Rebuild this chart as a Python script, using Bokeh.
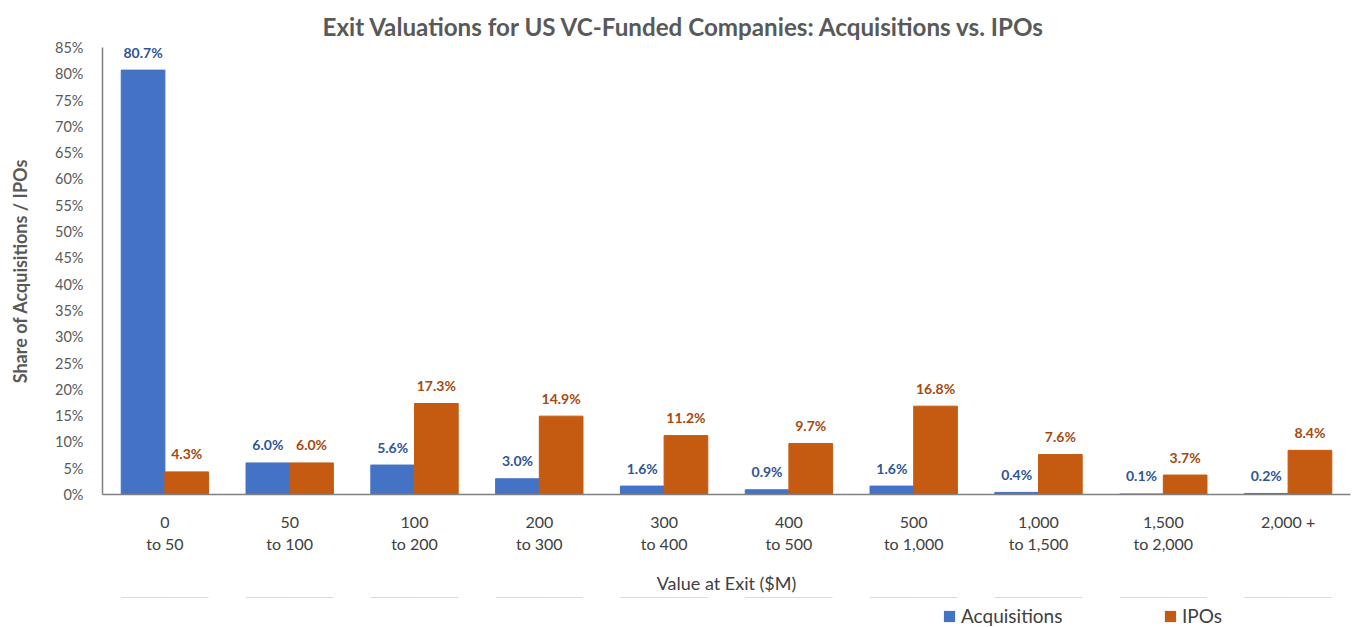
from bokeh.plotting import figure
from bokeh.layouts import column
from bokeh.models import (ColumnDataSource, FactorRange, Range1d, LabelSet, Legend, LegendItem,
                          SingleIntervalTicker, PrintfTickFormatter)
from bokeh.core.properties import value
from bokeh.transform import dodge
from bokeh.embed import file_html
from bokeh.resources import INLINE

categories = ["0\nto 50", "50\nto 100", "100\nto 200", "200\nto 300", "300\nto 400",
              "400\nto 500", "500\nto 1,000", "1,000\nto 1,500", "1,500\nto 2,000", "2,000 +"]
acquisitions = [80.7, 6.0, 5.6, 3.0, 1.6, 0.9, 1.6, 0.4, 0.1, 0.2]
ipos = [4.3, 6.0, 17.3, 14.9, 11.2, 9.7, 16.8, 7.6, 3.7, 8.4]
series_names = ["Acquisitions", "IPOs"]

FONT = "Lato"
BLUE = "#4472C4"
ORANGE = "#C55A11"

src = ColumnDataSource(dict(
    cat=categories,
    acq=acquisitions,
    ipo=ipos,
    acq_lbl=[f"{v:.1f}%" for v in acquisitions],
    ipo_lbl=[f"{v:.1f}%" for v in ipos],
))

p = figure(width=1353, height=597,
           x_range=FactorRange(factors=categories, range_padding=0),
           y_range=Range1d(0, 85), output_backend="svg", toolbar_location=None,
           min_border_left=102, min_border_right=3, min_border_top=47, min_border_bottom=103,
           title="Exit Valuations for US VC-Funded Companies:  Acquisitions vs. IPOs")

p.title.align = "left"
p.title.offset = 220
p.title.text_font = FONT
p.title.text_font_size = "24.2px"
p.title.text_font_style = "bold"
p.title.text_color = "#595959"
p.title.standoff = 14

r1 = p.vbar(x=dodge("cat", -0.175, range=p.x_range), top="acq", width=0.35, source=src,
            fill_color=BLUE, line_color=BLUE)
r2 = p.vbar(x=dodge("cat", 0.175, range=p.x_range), top="ipo", width=0.35, source=src,
            fill_color=ORANGE, line_color=ORANGE)

l1 = LabelSet(x=dodge("cat", -0.175, range=p.x_range), y="acq", text="acq_lbl", source=src,
              text_align="center", text_baseline="middle", y_offset=18,
              text_font=value(FONT), text_font_size="14px", text_font_style="bold",
              text_color="#2F5597")
l2 = LabelSet(x=dodge("cat", 0.175, range=p.x_range), y="ipo", text="ipo_lbl", source=src,
              text_align="center", text_baseline="middle", y_offset=18,
              text_font=value(FONT), text_font_size="14px", text_font_style="bold",
              text_color="#A8480E")
p.add_layout(l1)
p.add_layout(l2)

p.grid.visible = False
p.outline_line_color = None
p.background_fill_color = "white"

# y axis
ya = p.yaxis[0]
ya.ticker = SingleIntervalTicker(interval=5)
ya.formatter = PrintfTickFormatter(format="%d%%")
ya.major_tick_line_color = None
ya.minor_tick_line_color = None
ya.major_label_standoff = 13
ya.major_label_text_font = FONT
ya.major_label_text_font_size = "14.5px"
ya.major_label_text_color = "#595959"
ya.axis_line_color = "#808080"
ya.axis_line_width = 1.5
ya.axis_label = "Share of Acquisitions / IPOs"
ya.axis_label_text_font = FONT
ya.axis_label_text_font_size = "18px"
ya.axis_label_text_font_style = "bold"
ya.axis_label_text_color = "#595959"
ya.axis_label_standoff = 21

# x axis
xa = p.xaxis[0]
xa.major_tick_line_color = None
xa.minor_tick_line_color = None
xa.major_label_standoff = 11
xa.major_label_text_font = FONT
xa.major_label_text_font_size = "16px"
xa.major_label_text_color = "#404040"
xa.axis_line_color = "#808080"
xa.axis_line_width = 1.5
xa.axis_label = "Value at Exit ($M)"
xa.axis_label_text_font = FONT
xa.axis_label_text_font_size = "18px"
xa.axis_label_text_font_style = "normal"
xa.axis_label_text_color = "#404040"
xa.axis_label_standoff = 16

# legend strip below the chart (bars lie outside its range so only the legend shows)
lg = figure(width=1353, height=30, x_range=p.x_range, y_range=Range1d(-200, -100),
            output_backend="svg", toolbar_location=None,
            min_border_left=102, min_border_right=3, min_border_top=0, min_border_bottom=0)
lg.axis.visible = False
lg.grid.visible = False
lg.outline_line_color = None
g1 = lg.vbar(x=dodge("cat", -0.175, range=p.x_range), top="acq", width=0.35, source=src,
             fill_color=BLUE, line_color=None)
g2 = lg.vbar(x=dodge("cat", 0.175, range=p.x_range), top="ipo", width=0.35, source=src,
             fill_color=ORANGE, line_color=None)
legend = Legend(items=[LegendItem(label=series_names[0], renderers=[g1]),
                       LegendItem(label=series_names[1], renderers=[g2])],
                orientation="horizontal", location=(840, 0),
                label_text_font=FONT, label_text_font_size="19px", label_text_color="#404040",
                glyph_width=14, glyph_height=14, label_standoff=5, label_width=162,
                label_height=18, spacing=40,
                padding=0, margin=0, border_line_color=None, background_fill_alpha=0)
lg.add_layout(legend, "center")

layout = column(p, lg, spacing=0)
open("out.html", "w").write(file_html(layout, INLINE))
